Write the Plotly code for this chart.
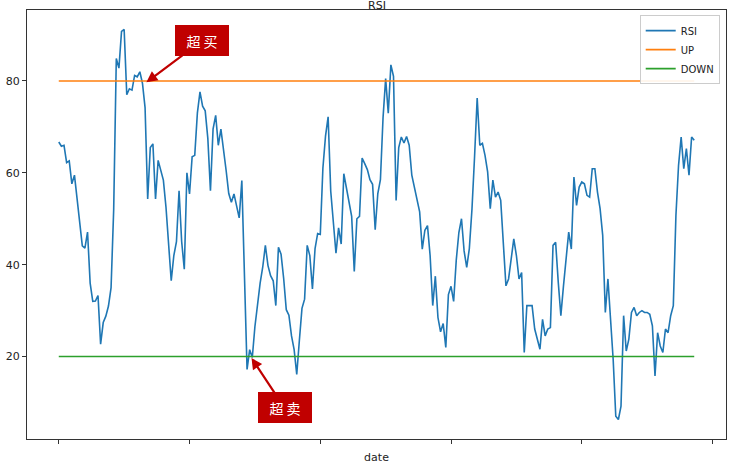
import plotly.graph_objects as go

# RSI values (one per trading day)
rsi = [
    66.7, 65.8, 66.0, 62.2, 62.6, 57.6, 59.5, 54.0, 48.5, 44.1,
    43.6, 47.1, 36.0, 32.0, 32.1, 33.3, 22.7, 27.4, 28.8, 31.0,
    35.0, 52.0, 84.9, 82.8, 90.8, 91.2, 77.0, 78.3, 78.0, 81.2,
    80.9, 82.0, 79.5, 74.2, 54.3, 65.5, 66.3, 54.3, 62.7, 60.8,
    58.4, 52.5, 45.5, 36.5, 42.0, 45.0, 56.1, 45.0, 39.0, 60.0,
    55.4, 63.5, 63.8, 73.0, 77.6, 74.5, 73.5, 67.5, 56.1, 69.5,
    72.5, 66.0, 69.5, 65.5, 60.5, 55.5, 53.6, 55.4, 52.5, 50.2,
    58.3, 38.0, 17.2, 21.5, 19.8, 26.5, 31.5, 36.0, 39.5, 44.2,
    39.8, 37.6, 36.5, 31.1, 43.8, 42.3, 37.0, 30.2, 29.0, 24.5,
    21.5, 16.1, 23.5, 30.5, 32.5, 44.2, 42.0, 34.7, 43.5, 46.8,
    46.6, 61.0, 68.0, 72.2, 56.0, 49.5, 42.5, 48.0, 44.5, 59.8,
    56.5, 53.6, 50.5, 38.5, 50.0, 50.5, 63.2, 62.0, 60.7, 58.5,
    57.5, 47.6, 55.5, 58.5, 72.0, 80.5, 73.0, 83.5, 81.0, 54.0,
    65.5, 67.8, 66.5, 67.9, 66.0, 59.5, 56.7, 54.5, 51.5, 43.4,
    47.5, 48.5, 42.0, 31.1, 37.5, 28.5, 25.4, 27.2, 22.0, 33.5,
    35.3, 32.0, 41.0, 47.0, 50.0, 43.0, 39.4, 43.5, 52.0, 63.5,
    76.3, 66.0, 66.4, 63.8, 60.2, 52.2, 58.4, 54.7, 55.8, 54.0,
    43.4, 35.4, 36.9, 41.3, 45.6, 42.0, 36.9, 38.3, 20.9, 31.1,
    31.1, 31.1, 26.0, 23.8, 21.6, 28.1, 24.5, 26.0, 26.3, 44.2,
    44.9, 36.2, 28.9, 35.4, 42.0, 47.1, 43.4, 59.1, 52.9, 56.9,
    58.0, 57.6, 55.1, 54.7, 60.9, 60.9, 55.8, 52.2, 46.4, 29.6,
    36.9, 27.4, 19.4, 7.0, 6.3, 9.2, 28.9, 21.2, 23.8, 29.6,
    30.7, 28.9, 29.6, 30.0, 29.6, 29.6, 29.2, 26.7, 15.8, 25.2,
    22.3, 20.9, 26.0, 25.2, 28.9, 31.1, 50.7, 61.6, 67.8, 60.9,
    65.3, 59.5, 67.8, 67.1,
]
day = list(range(len(rsi)))
up_level = 80
down_level = 20
up = [up_level] * len(rsi)
down = [down_level] * len(rsi)

y_ticks = [20, 40, 60, 80]
x_ticks = [0, 50, 100, 150, 200, 250]

# annotation anchor points (data coords) and labels
overbought_label = "超 买"
overbought_pt = (33.5, 79.7)
oversold_label = "超 卖"
oversold_pt = (73.7, 19.7)

FONT = "DejaVu Sans, Liberation Sans, sans-serif"

fig = go.Figure()
fig.add_trace(go.Scatter(x=day, y=rsi, mode="lines", name="RSI",
                         line=dict(color="#1f77b4", width=1.6)))
fig.add_trace(go.Scatter(x=day, y=up, mode="lines", name="UP",
                         line=dict(color="#ff7f0e", width=1.6)))
fig.add_trace(go.Scatter(x=day, y=down, mode="lines", name="DOWN",
                         line=dict(color="#2ca02c", width=1.6)))

n = len(rsi)
pad = 0.05 * (n - 1)
ymin, ymax = min(rsi), max(rsi)
ypad = 0.05 * (ymax - ymin)

fig.update_layout(
    width=742, height=475,
    margin=dict(l=27, r=16, t=10, b=36, autoexpand=False),
    paper_bgcolor="white", plot_bgcolor="white",
    font=dict(family=FONT, size=11, color="#222"),
    showlegend=True,
    legend=dict(x=0.991, y=0.988, xanchor="right", yanchor="top",
                bgcolor="rgba(255,255,255,0.9)", bordercolor="#cccccc",
                borderwidth=1, font=dict(size=10, color="#222"),
                itemwidth=30, tracegroupgap=0),
    xaxis=dict(range=[-pad, n - 1 + pad], tickvals=x_ticks, showticklabels=False,
               ticks="outside", ticklen=4, tickcolor="#333", automargin=False,
               showgrid=False, zeroline=False,
               showline=True, linecolor="#333", linewidth=1, mirror=True,
               title=dict(text="date", font=dict(size=11, color="#222"), standoff=10)),
    yaxis=dict(range=[ymin - ypad, ymax + ypad], tickvals=y_ticks,
               ticks="outside", ticklen=4, tickcolor="#333", automargin=False,
               tickfont=dict(size=11, color="#222"),
               showgrid=False, zeroline=False,
               showline=True, linecolor="#333", linewidth=1, mirror=True),
)

fig.add_annotation(text="RSI", xref="paper", yref="paper", x=0.5, y=1,
                   yanchor="middle", yshift=5, showarrow=False,
                   font=dict(size=11, color="#222"))

for label, (px, py), ax, ay in [(overbought_label, overbought_pt, 56, -42),
                                (oversold_label, oversold_pt, 33, 50)]:
    fig.add_annotation(
        x=px, y=py, xref="x", yref="y", text=label,
        showarrow=True, arrowhead=2, arrowsize=1, arrowwidth=2.2,
        arrowcolor="#c00000", ax=ax, ay=ay,
        bgcolor="#c00000", bordercolor="#c00000", borderwidth=1,
        borderpad=2, width=48, height=25,
        font=dict(family="Noto Sans CJK SC", size=14, color="white"),
    )

fig.write_html("out.html",
               config={"displayModeBar": False},
               post_script="document.body.style.margin='0px';"
                           "document.body.style.overflow='hidden';")
